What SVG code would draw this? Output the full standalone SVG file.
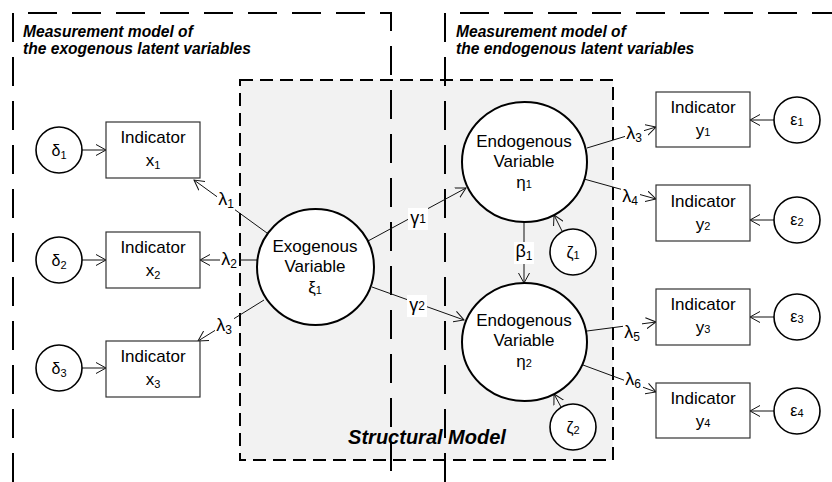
<svg xmlns="http://www.w3.org/2000/svg" width="832" height="482" viewBox="0 0 832 482">
  <style>
    text { font-family: "Liberation Sans", Arial, sans-serif; fill: #000; }
    .hdr { font-size: 15.6px; font-weight: bold; font-style: italic; }
    .title { font-size: 20px; font-weight: bold; font-style: italic; }
    .nt { font-size: 17px; text-anchor: middle; }
    .gk { font-size: 16px; text-anchor: middle; }
    .lab { font-size: 18px; text-anchor: middle; }
    .sub { font-size: 11px; }
    .lsub { font-size: 12px; }
    .mbox { fill: none; stroke: #000; stroke-width: 2; stroke-dasharray: 29 15; }
    .sbox { fill: #f2f2f2; stroke: #000; stroke-width: 2; stroke-dasharray: 13 7; }
    .ind { fill: #fff; stroke: #333; stroke-width: 1.2; }
    .lat { fill: #fff; stroke: #000; stroke-width: 2; }
    .err { fill: #fff; stroke: #000; stroke-width: 1.6; }
    .edge { fill: none; stroke: #111; stroke-width: 1; marker-end: url(#arr); }
    .lbg { fill: #fff; }
  </style>
  <defs>
    <marker id="arr" markerUnits="userSpaceOnUse" markerWidth="11" markerHeight="12" refX="10" refY="6" orient="auto">
      <path d="M0,0.5 L10,6 L0,11.5" fill="none" stroke="#111" stroke-width="1"/>
    </marker>
  </defs>

  <!-- structural model region -->
  <g id="structural-model">
    <rect class="sbox" x="240" y="80" width="373" height="380"/>
  </g>

  <!-- measurement model regions (open at the bottom / right) -->
  <g id="measurement-exogenous">
    <path class="mbox" d="M13,482 V13 H391 V482"/>
    <text class="hdr" x="23" y="37">Measurement model of</text>
    <text class="hdr" x="23" y="54">the exogenous latent variables</text>
  </g>
  <g id="measurement-endogenous">
    <path class="mbox" d="M445,482 V13 H832"/>
    <text class="hdr" x="456" y="37">Measurement model of</text>
    <text class="hdr" x="456" y="54">the endogenous latent variables</text>
  </g>

  <text class="title" x="427" y="444" text-anchor="middle">Structural Model</text>

  <!-- connectors -->
  <g id="connectors">
    <line class="edge" x1="82" y1="150" x2="106" y2="150"/>
    <line class="edge" x1="82" y1="260" x2="106" y2="260"/>
    <line class="edge" x1="82" y1="368" x2="106" y2="368"/>

    <line class="edge" x1="267" y1="233" x2="194" y2="180"/>
    <line class="edge" x1="257" y1="260" x2="200" y2="260"/>
    <line class="edge" x1="264" y1="300" x2="198" y2="341"/>

    <line class="edge" x1="368" y1="241" x2="466" y2="188"/>
    <line class="edge" x1="372" y1="287" x2="464" y2="320"/>

    <line class="edge" x1="524" y1="222" x2="524" y2="283"/>
    <line class="edge" x1="562" y1="231" x2="554" y2="215"/>
    <line class="edge" x1="561" y1="407" x2="554" y2="394"/>

    <line class="edge" x1="587" y1="148" x2="656" y2="127"/>
    <line class="edge" x1="584" y1="179" x2="656" y2="199"/>
    <line class="edge" x1="587" y1="331" x2="656" y2="322"/>
    <line class="edge" x1="583" y1="365" x2="656" y2="392"/>

    <line class="edge" x1="774" y1="120" x2="750" y2="120"/>
    <line class="edge" x1="774" y1="220" x2="750" y2="220"/>
    <line class="edge" x1="774" y1="317" x2="750" y2="317"/>
    <line class="edge" x1="774" y1="411" x2="750" y2="411"/>

    <!-- path coefficient labels -->
    <rect class="lbg" x="217" y="190" width="18" height="21"/>
    <text class="lab" x="226" y="205">λ<tspan class="lsub" dy="3">1</tspan></text>
    <rect class="lbg" x="220" y="250" width="19" height="21"/>
    <text class="lab" x="229" y="265">λ<tspan class="lsub" dy="3">2</tspan></text>
    <rect class="lbg" x="215" y="316" width="19" height="21"/>
    <text class="lab" x="224" y="331">λ<tspan class="lsub" dy="3">3</tspan></text>

    <rect class="lbg" x="408" y="208" width="20" height="22"/>
    <text class="lab" x="418" y="224">γ<tspan class="lsub" dy="-1">1</tspan></text>
    <rect class="lbg" x="407" y="295" width="20" height="22"/>
    <text class="lab" x="417" y="311">γ<tspan class="lsub" dy="-1">2</tspan></text>

    <rect class="lbg" x="514" y="242" width="20" height="22"/>
    <text class="lab" x="524" y="257">β<tspan class="lsub" dy="3">1</tspan></text>

    <rect class="lbg" x="625" y="124" width="19" height="21"/>
    <text class="lab" x="634" y="139">λ<tspan class="lsub" dy="3">3</tspan></text>
    <rect class="lbg" x="621" y="187" width="19" height="21"/>
    <text class="lab" x="630" y="202">λ<tspan class="lsub" dy="3">4</tspan></text>
    <rect class="lbg" x="623" y="323" width="19" height="21"/>
    <text class="lab" x="632" y="338">λ<tspan class="lsub" dy="3">5</tspan></text>
    <rect class="lbg" x="624" y="370" width="19" height="21"/>
    <text class="lab" x="633" y="385">λ<tspan class="lsub" dy="3">6</tspan></text>
  </g>

  <!-- exogenous error terms -->
  <g id="delta1"><circle class="err" cx="59" cy="150" r="23"/><text class="gk" x="59" y="156">δ<tspan class="sub" dy="3">1</tspan></text></g>
  <g id="delta2"><circle class="err" cx="59" cy="260" r="23"/><text class="gk" x="59" y="266">δ<tspan class="sub" dy="3">2</tspan></text></g>
  <g id="delta3"><circle class="err" cx="59" cy="368" r="23"/><text class="gk" x="59" y="374">δ<tspan class="sub" dy="3">3</tspan></text></g>

  <!-- exogenous indicators -->
  <g id="x1"><rect class="ind" x="106" y="122" width="94" height="56"/><text class="nt" x="153" y="143">Indicator</text><text class="nt" x="153" y="166">x<tspan class="sub" dy="3">1</tspan></text></g>
  <g id="x2"><rect class="ind" x="106" y="232" width="94" height="56"/><text class="nt" x="153" y="253">Indicator</text><text class="nt" x="153" y="276">x<tspan class="sub" dy="3">2</tspan></text></g>
  <g id="x3"><rect class="ind" x="106" y="341" width="94" height="56"/><text class="nt" x="153" y="362">Indicator</text><text class="nt" x="153" y="385">x<tspan class="sub" dy="3">3</tspan></text></g>

  <!-- latent variables -->
  <g id="xi1">
    <ellipse class="lat" cx="315.5" cy="267" rx="58.5" ry="58"/>
    <text class="nt" x="315" y="252">Exogenous</text>
    <text class="nt" x="315" y="272">Variable</text>
    <text class="nt" x="315" y="293">ξ<tspan class="sub" dy="1">1</tspan></text>
  </g>
  <g id="eta1">
    <ellipse class="lat" cx="524.5" cy="162" rx="62.5" ry="60"/>
    <text class="nt" x="524" y="147">Endogenous</text>
    <text class="nt" x="524" y="167">Variable</text>
    <text class="nt" x="524" y="188">η<tspan class="sub" dy="0">1</tspan></text>
  </g>
  <g id="eta2">
    <ellipse class="lat" cx="524.5" cy="342" rx="62.5" ry="59"/>
    <text class="nt" x="524" y="326">Endogenous</text>
    <text class="nt" x="524" y="346">Variable</text>
    <text class="nt" x="524" y="367">η<tspan class="sub" dy="0">2</tspan></text>
  </g>

  <!-- structural disturbances -->
  <g id="zeta1"><circle class="err" cx="573" cy="252" r="23"/><text class="gk" x="573" y="258">ζ<tspan class="sub" dy="1">1</tspan></text></g>
  <g id="zeta2"><circle class="err" cx="573" cy="427" r="23"/><text class="gk" x="573" y="433">ζ<tspan class="sub" dy="1">2</tspan></text></g>

  <!-- endogenous indicators -->
  <g id="y1"><rect class="ind" x="656" y="92" width="94" height="55"/><text class="nt" x="703" y="113">Indicator</text><text class="nt" x="703" y="136">y<tspan class="sub" dy="0">1</tspan></text></g>
  <g id="y2"><rect class="ind" x="656" y="185" width="94" height="56"/><text class="nt" x="703" y="207">Indicator</text><text class="nt" x="703" y="230">y<tspan class="sub" dy="0">2</tspan></text></g>
  <g id="y3"><rect class="ind" x="656" y="289" width="94" height="56"/><text class="nt" x="703" y="310">Indicator</text><text class="nt" x="703" y="333">y<tspan class="sub" dy="0">3</tspan></text></g>
  <g id="y4"><rect class="ind" x="656" y="383" width="94" height="55"/><text class="nt" x="703" y="404">Indicator</text><text class="nt" x="703" y="427">y<tspan class="sub" dy="0">4</tspan></text></g>

  <!-- endogenous error terms -->
  <g id="eps1"><circle class="err" cx="797" cy="120" r="23"/><text class="gk" x="797" y="125">ε<tspan class="sub" dy="1">1</tspan></text></g>
  <g id="eps2"><circle class="err" cx="797" cy="220" r="23"/><text class="gk" x="797" y="225">ε<tspan class="sub" dy="1">2</tspan></text></g>
  <g id="eps3"><circle class="err" cx="797" cy="317" r="23"/><text class="gk" x="797" y="322">ε<tspan class="sub" dy="1">3</tspan></text></g>
  <g id="eps4"><circle class="err" cx="797" cy="411" r="23"/><text class="gk" x="797" y="416">ε<tspan class="sub" dy="1">4</tspan></text></g>
</svg>
